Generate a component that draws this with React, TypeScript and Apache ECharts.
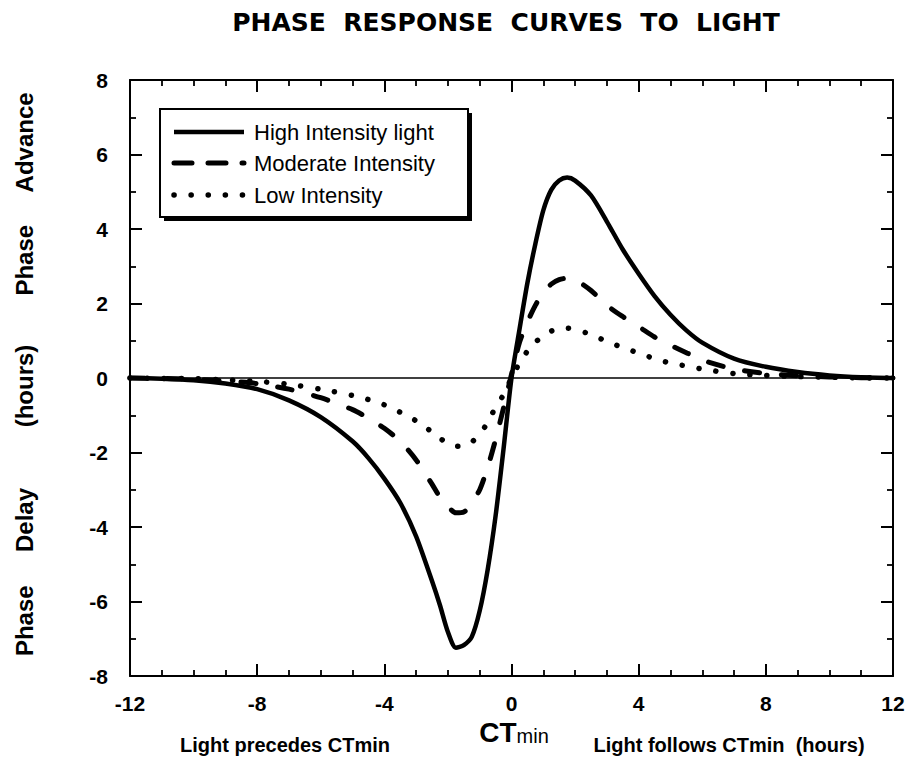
import React, { useEffect, useRef } from "react";
import * as echarts from "echarts";

// ---- Data (hours relative to CTmin, phase shift in hours) ----
const xHours = [
  -12, -11, -10, -9, -8, -7, -6, -5, -4.5, -4, -3.5, -3, -2.5, -2.25, -2, -1.75,
  -1.5, -1.25, -1, -0.75, -0.5, -0.25, 0, 0.25, 0.5, 0.75, 1, 1.25, 1.5, 1.75, 2,
  2.5, 3, 3.5, 4, 4.5, 5, 5.5, 6, 7, 8, 9, 10, 11, 12,
];
const highIntensity = [
  0, -0.02, -0.06, -0.15, -0.3, -0.6, -1.05, -1.7, -2.15, -2.7, -3.35, -4.25,
  -5.45, -6.1, -6.82, -7.24, -7.17, -6.95, -6.25, -5.15, -3.7, -1.9, 0, 1.3, 2.55,
  3.6, 4.5, 5.05, 5.3, 5.38, 5.3, 4.9, 4.2, 3.45, 2.8, 2.2, 1.7, 1.28, 0.95,
  0.52, 0.3, 0.16, 0.07, 0.02, 0,
];
const moderateIntensity = [
  0, -0.01, -0.03, -0.08, -0.15, -0.3, -0.53, -0.85, -1.08, -1.35, -1.7, -2.2,
  -2.85, -3.2, -3.45, -3.62, -3.6, -3.35, -3.0, -2.4, -1.65, -0.8, 0.1, 0.95,
  1.5, 1.95, 2.3, 2.52, 2.64, 2.68, 2.64, 2.35, 1.95, 1.65, 1.38, 1.1, 0.88,
  0.68, 0.48, 0.24, 0.12, 0.06, 0.03, 0.01, 0,
];
const lowIntensity = [
  0, -0.01, -0.02, -0.05, -0.09, -0.17, -0.3, -0.47, -0.58, -0.72, -0.92, -1.15,
  -1.45, -1.62, -1.75, -1.83, -1.82, -1.72, -1.5, -1.2, -0.78, -0.45, 0, 0.4,
  0.72, 0.96, 1.13, 1.26, 1.32, 1.34, 1.3, 1.17, 0.98, 0.82, 0.67, 0.52, 0.4,
  0.32, 0.24, 0.12, 0.07, 0.04, 0.02, 0.005, 0,
];
const seriesNames = ["High Intensity light", "Moderate Intensity", "Low Intensity"];
const chartTitle = "PHASE  RESPONSE  CURVES  TO  LIGHT";

const FONT = "'Liberation Sans', Arial, Helvetica, sans-serif";
const TITLE_FONT = "'DejaVu Sans', Verdana, sans-serif";

export default function App() {
  const ref = useRef<HTMLDivElement>(null);

  useEffect(() => {
    if (!ref.current) return;
    const chart = echarts.init(ref.current, null, { renderer: "svg" });

    const pair = (ys: number[]) => xHours.map((x, i) => [x, ys[i]]);

    const styles = [
      { width: 4.5, type: "solid" as any, cap: "round" },
      { width: 5, type: [15, 22] as any, cap: "round" },
      { width: 5.5, type: [0.1, 17] as any, cap: "round" },
    ];
    const legendDash: any[] = [null, [18, 16], [0.1, 17]];
    const legendRowY = [132, 163, 195];
    const values = [highIntensity, moderateIntensity, lowIntensity];

    const axisCommon = {
      axisLine: { show: true, onZero: false, lineStyle: { color: "#000", width: 2 } },
      axisTick: { show: true, inside: true, length: 12, lineStyle: { color: "#000", width: 2 } },
      minorTick: { show: true, length: 6, lineStyle: { color: "#000", width: 1.8 } },
      splitLine: { show: false },
      minorSplitLine: { show: false },
    };

    const option: any = {
      animation: false,
      backgroundColor: "#fff",
      grid: {
        left: 130,
        top: 80,
        width: 763,
        height: 596,
        containLabel: false,
        outerBoundsMode: "none",
      },
      xAxis: [
        {
          type: "value",
          min: -12,
          max: 12,
          interval: 4,
          position: "bottom",
          ...axisCommon,
          minorTick: { ...axisCommon.minorTick, splitNumber: 4 },
          axisLabel: {
            color: "#000",
            fontFamily: FONT,
            fontWeight: "bold",
            fontSize: 21,
            margin: 17,
          },
        },
        {
          type: "value",
          min: -12,
          max: 12,
          interval: 4,
          position: "top",
          ...axisCommon,
          minorTick: { ...axisCommon.minorTick, splitNumber: 4 },
          axisLabel: { show: false },
        },
      ],
      yAxis: [
        {
          type: "value",
          min: -8,
          max: 8,
          interval: 2,
          position: "left",
          ...axisCommon,
          minorTick: { ...axisCommon.minorTick, splitNumber: 2 },
          axisLabel: {
            color: "#000",
            fontFamily: FONT,
            fontWeight: "bold",
            fontSize: 21,
            margin: 22,
          },
        },
        {
          type: "value",
          min: -8,
          max: 8,
          interval: 2,
          position: "right",
          ...axisCommon,
          minorTick: { ...axisCommon.minorTick, splitNumber: 2 },
          axisLabel: { show: false },
        },
      ],
      legend: {
        orient: "vertical",
        left: 173,
        top: 121,
        padding: 0,
        itemWidth: 72,
        itemHeight: 22,
        itemGap: 9.5,
        selectedMode: false,
        textStyle: {
          color: "#000",
          fontFamily: FONT,
          fontSize: 22,
          lineHeight: 22,
          padding: [0, 0, 0, 4],
        },
        data: seriesNames.map((name) => ({ name, icon: "none" })),
      },
      series: seriesNames.map((name, i) => ({
        name,
        type: "line",
        xAxisIndex: 0,
        yAxisIndex: 0,
        data: pair(values[i]),
        smooth: 0.25,
        symbol: "none",
        showSymbol: false,
        z: 3 + i,
        color: "#000",
        lineStyle: {
          color: "#000",
          width: styles[i].width,
          type: styles[i].type,
          cap: styles[i].cap,
          join: "round",
        },
        ...(i === 0
          ? {
              markLine: {
                silent: true,
                symbol: ["none", "none"],
                label: { show: false },
                lineStyle: { color: "#000", width: 1.5, type: "solid" },
                data: [{ yAxis: 0 }],
                z: 1,
              },
            }
          : {}),
      })),
      graphic: [
        // legend box with drop shadow
        { type: "rect", z: 0, shape: { x: 164, y: 113, width: 308, height: 108 }, style: { fill: "#000" } },
        {
          type: "rect",
          z: 0,
          shape: { x: 160, y: 109, width: 308, height: 108 },
          style: { fill: "#fff", stroke: "#000", lineWidth: 2 },
        },
        // legend line samples
        ...seriesNames.map((_, i) => ({
          type: "line",
          z: 10,
          shape: { x1: 174, y1: legendRowY[i], x2: 244, y2: legendRowY[i] },
          style: {
            stroke: "#000",
            lineWidth: styles[i].width,
            lineDash: legendDash[i],
            lineCap: i === 0 ? "butt" : "round",
          },
        })),
        // title
        {
          type: "text",
          x: 506,
          y: 22,
          style: {
            text: chartTitle,
            fill: "#000",
            font: `bold 25px ${TITLE_FONT}`,
            align: "center",
            verticalAlign: "middle",
          },
        },
        // y axis names
        {
          type: "text",
          x: 24,
          y: 194,
          rotation: Math.PI / 2,
          style: { text: "Phase     Advance", fill: "#000", font: `bold 24px ${FONT}`, align: "center", verticalAlign: "middle" },
        },
        {
          type: "text",
          x: 24,
          y: 386,
          rotation: Math.PI / 2,
          style: { text: "(hours)", fill: "#000", font: `bold 24px ${FONT}`, align: "center", verticalAlign: "middle" },
        },
        {
          type: "text",
          x: 24,
          y: 572,
          rotation: Math.PI / 2,
          style: { text: "Phase     Delay", fill: "#000", font: `bold 24px ${FONT}`, align: "center", verticalAlign: "middle" },
        },
        // CTmin
        {
          type: "text",
          x: 514,
          y: 732,
          style: {
            text: "{a|CT}{b|min}",
            align: "center",
            verticalAlign: "middle",
            rich: {
              a: { fontFamily: FONT, fontWeight: "bold", fontSize: 28, lineHeight: 28, fill: "#000", color: "#000", verticalAlign: "bottom" },
              b: { fontFamily: FONT, fontWeight: "normal", fontSize: 20, lineHeight: 20, fill: "#000", color: "#000", verticalAlign: "bottom" },
            },
          },
        },
        {
          type: "text",
          x: 285,
          y: 745,
          style: { text: "Light precedes CTmin", fill: "#000", font: `bold 20px ${FONT}`, align: "center", verticalAlign: "middle" },
        },
        {
          type: "text",
          x: 729,
          y: 745,
          style: { text: "Light follows CTmin  (hours)", fill: "#000", font: `bold 20px ${FONT}`, align: "center", verticalAlign: "middle" },
        },
      ],
    };

    chart.setOption(option);
    return () => chart.dispose();
  }, []);

  return (
    <div
      ref={ref}
      style={{ position: "fixed", left: 0, top: 0, width: 908, height: 760, background: "#fff" }}
    />
  );
}
